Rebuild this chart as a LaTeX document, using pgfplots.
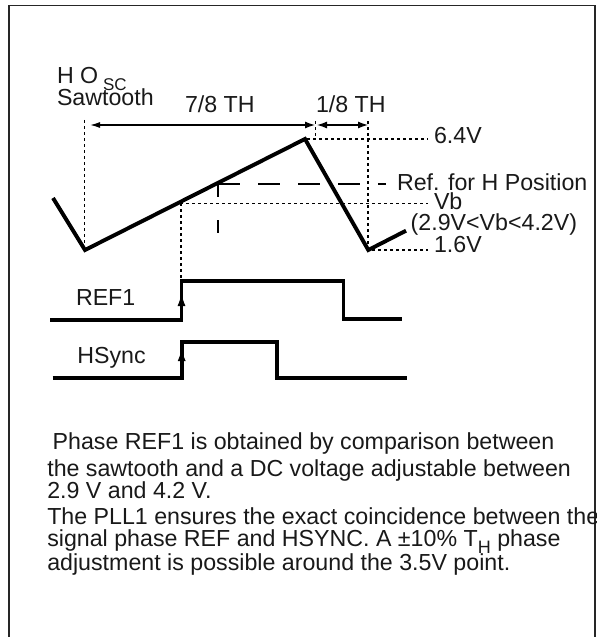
\documentclass[border=0pt]{standalone}
\usepackage{pgfplots}
\pgfplotsset{compat=1.18}
\usepackage{fontspec}
\setmainfont{Liberation Sans}
\usetikzlibrary{arrows.meta}
\newcommand{\lbl}{\fontsize{23.2bp}{26bp}\selectfont}
\tikzset{lb/.style={inner sep=0pt, outer sep=0pt, anchor=base west, font=\lbl, text=black!90}}
\begin{document}
\begin{tikzpicture}
\useasboundingbox (0,0) rectangle (597bp,637bp);
\clip (0,0) rectangle (596bp,637bp);
\begin{axis}[at={(0,0)}, anchor=south west, scale only axis,
  width=597bp, height=637bp, xmin=0, xmax=597, ymin=0, ymax=637,
  y dir=reverse, axis lines=none, ticks=none, clip=false]
% frame
\addplot[black!85, line width=1.8bp] coordinates {(9,645)(9,5.5)(595,5.5)(595,645)};
% dotted guides
\pgfplotsset{dotg/.style={black, line width=1.3bp, dash pattern=on 2.5bp off 3.5bp}}
\addplot[dotg] coordinates {(84.5,120)(84.5,250)};
\addplot[dotg] coordinates {(315.5,121)(315.5,139)};
\addplot[dotg] coordinates {(307,139)(428,139)};
\addplot[dotg] coordinates {(368,121)(368,250)};
\addplot[dotg] coordinates {(372,250)(428,250)};
\addplot[dotg] coordinates {(180,203.3)(428,203.3)};
\addplot[dotg] coordinates {(181,203.3)(181,279)};
% dashed reference line
\addplot[black, line width=1.9bp, dash pattern=on 22bp off 18bp] coordinates {(218,184)(386,184)};
\addplot[black, line width=1.9bp] coordinates {(218,183)(218,197)};
\addplot[black, line width=1.9bp] coordinates {(218,220)(218,233)};
% arrows
\addplot[black, line width=1.3bp, {Latex[length=10bp,width=6bp]}-{Latex[length=10bp,width=7bp]}] coordinates {(90,125)(315,125)};
\addplot[black, line width=1.3bp, {Latex[length=10bp,width=7bp]}-{Latex[length=10bp,width=7bp]}] coordinates {(317,125)(368,125)};
% sawtooth
\addplot[black, line width=3.9bp, line join=miter] coordinates {(53,198)(85,250)(305,139)(368.3,250)(406,230.7)};
% REF1
\addplot[black, line width=3.9bp, line join=miter] coordinates {(50,320)(181.5,320)(181.5,280.7)(343.5,280.7)(343.5,319)(401.7,319)};
\addplot[black, line width=1bp, -{Latex[length=12bp,width=8bp]}] coordinates {(181.5,312)(181.5,294)};
% HSync
\addplot[black, line width=3.9bp, line join=miter] coordinates {(52.7,378.3)(181.7,378.3)(181.7,341.7)(277.3,341.7)(277.3,378.3)(406.7,378.3)};
\addplot[black, line width=1bp, -{Latex[length=12bp,width=8bp]}] coordinates {(181.7,370)(181.7,349)};
% labels
\node[lb] at (axis cs:57,83.3) {H O};
\node[lb, font=\fontsize{17bp}{17bp}\selectfont] at (axis cs:103,90.7) {SC};
\node[lb] at (axis cs:57,106) {Sawtooth};
\node[lb] at (axis cs:185,113) {7/8 TH};
\node[lb] at (axis cs:316,113) {1/8 TH};
\node[lb] at (axis cs:434,143) {6.4V};
\node[lb] at (axis cs:397,190) {Ref. for H Position};
\node[lb] at (axis cs:434,209.3) {Vb};
\node[lb] at (axis cs:410.7,230) {(2.9V<Vb<4.2V)};
\node[lb] at (axis cs:434,252.7) {1.6V};
\node[lb] at (axis cs:76,305) {REF1};
\node[lb] at (axis cs:77.3,363) {HSync};
% paragraph
\node[lb] at (axis cs:52.7,449) {Phase REF1 is obtained by comparison between};
\node[lb] at (axis cs:47.3,476) {the sawtooth and a DC voltage adjustable between};
\node[lb] at (axis cs:47.3,498) {2.9 V and 4.2 V.};
\node[lb] at (axis cs:47.3,524) {The PLL1 ensures the exact coincidence between the};
\node[lb] at (axis cs:47.3,546) {signal phase REF and HSYNC. A ±10\% T\raisebox{-7bp}{\fontsize{18bp}{18bp}\selectfont H} phase};
\node[lb] at (axis cs:47.3,570) {adjustment is possible around the 3.5V point.};
\end{axis}
\end{tikzpicture}
\end{document}
